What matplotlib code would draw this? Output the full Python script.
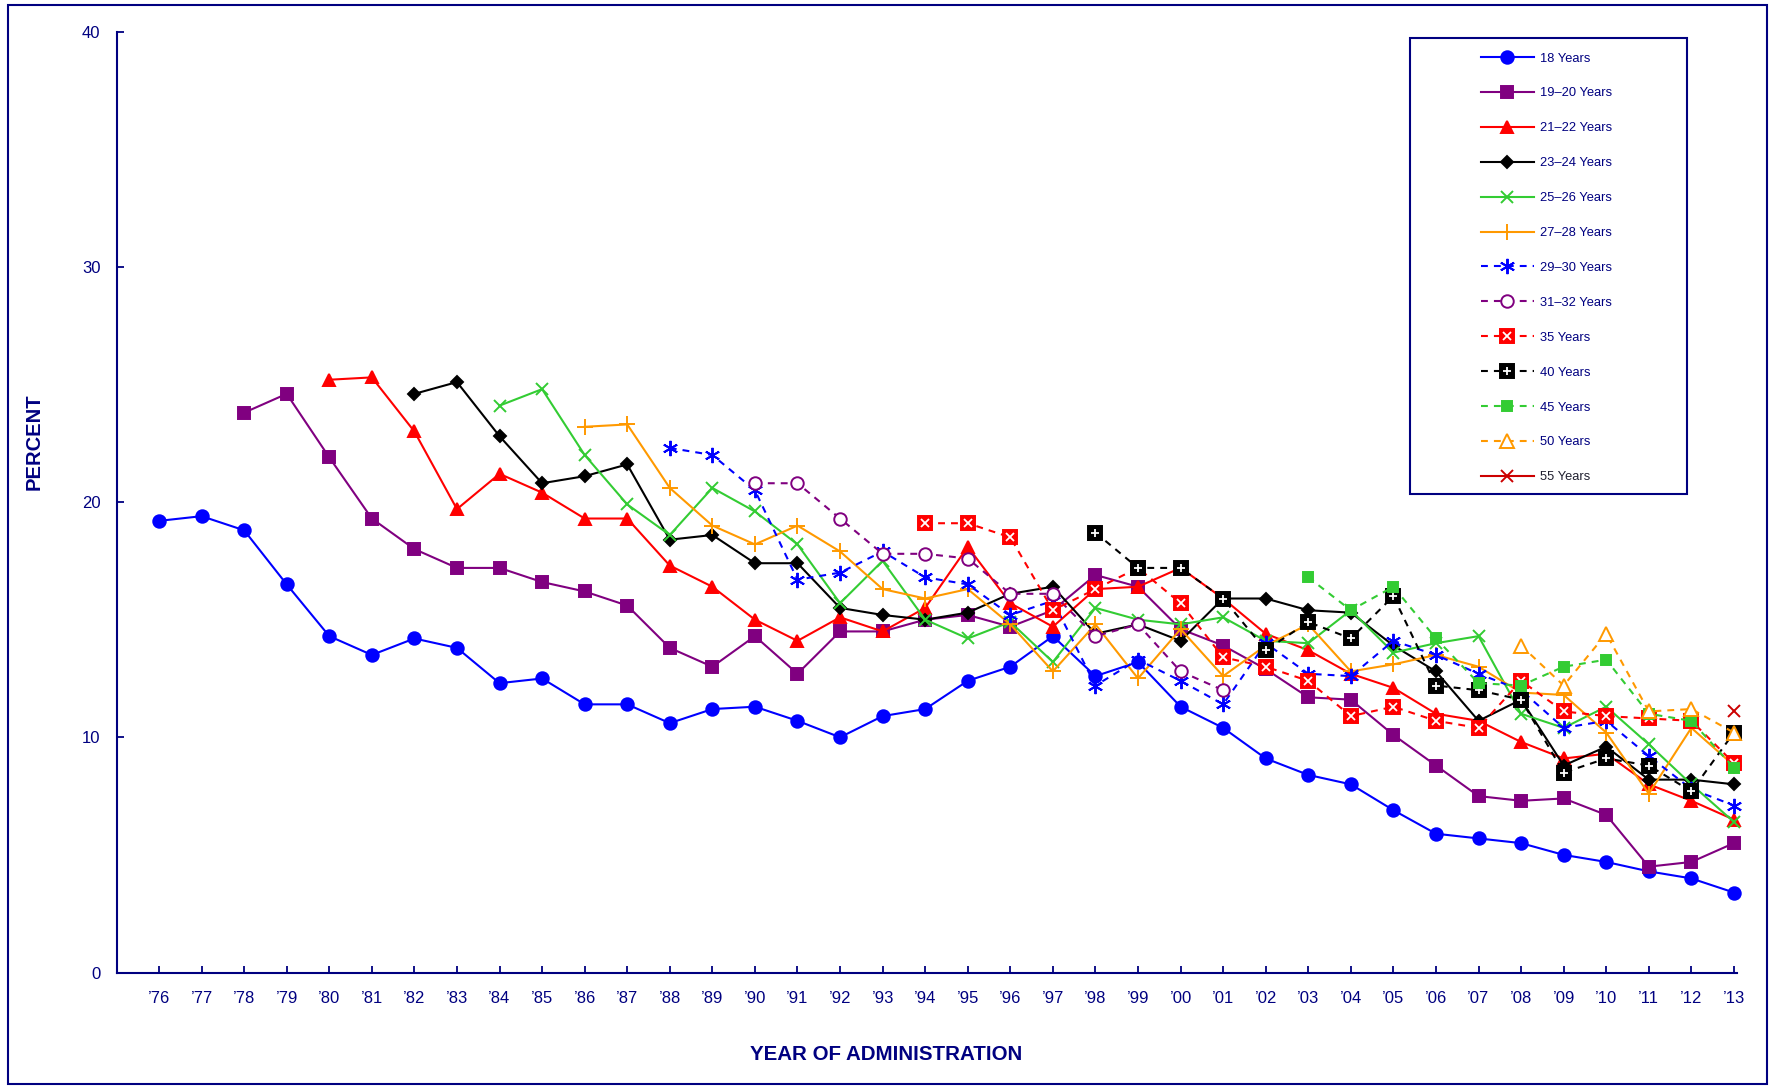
import matplotlib
matplotlib.use("Agg")
from matplotlib import pyplot as plt
from matplotlib.patches import Rectangle

plt.rcParams['font.family'] = ['Liberation Sans', 'DejaVu Sans']

NAVY = '#000080'

years = list(range(1976, 2014))
year_labels = ["\u2019" + str(y)[2:] for y in years]

# percent by age group, each list starts at the first year it was surveyed
age_18 = [19.2, 19.4, 18.8, 16.5, 14.3, 13.5, 14.2, 13.8, 12.3, 12.5,
          11.4, 11.4, 10.6, 11.2, 11.3, 10.7, 10.0, 10.9, 11.2, 12.4,
          13.0, 14.3, 12.6, 13.2, 11.3, 10.4, 9.1, 8.4, 8.0, 6.9,
          5.9, 5.7, 5.5, 5.0, 4.7, 4.3, 4.0, 3.4]
age_19_20 = [23.8, 24.6, 21.9, 19.3, 18.0, 17.2, 17.2, 16.6, 16.2, 15.6,
             13.8, 13.0, 14.3, 12.7, 14.5, 14.5, 15.0, 15.2, 14.7, 15.4,
             16.9, 16.4, 14.6, 13.9, 12.9, 11.7, 11.6, 10.1, 8.8, 7.5,
             7.3, 7.4, 6.7, 4.5, 4.7, 5.5]
age_21_22 = [25.2, 25.3, 23.0, 19.7, 21.2, 20.4, 19.3, 19.3, 17.3, 16.4,
             15.0, 14.1, 15.1, 14.5, 15.5, 18.1, 15.7, 14.7, 16.3, 16.4,
             17.2, 15.9, 14.4, 13.7, 12.7, 12.1, 11.0, 10.7, 9.8, 9.1,
             9.3, 8.0, 7.3, 6.5]
age_23_24 = [24.6, 25.1, 22.8, 20.8, 21.1, 21.6, 18.4, 18.6, 17.4, 17.4,
             15.5, 15.2, 15.0, 15.3, 16.1, 16.4, 14.4, 14.8, 14.1, 15.9,
             15.9, 15.4, 15.3, 13.9, 12.8, 10.7, 11.6, 8.8, 9.6, 8.2,
             8.2, 8.0]
age_25_26 = [24.1, 24.8, 22.0, 19.9, 18.6, 20.6, 19.6, 18.2, 15.7, 17.5,
             15.0, 14.2, 14.9, 13.2, 15.5, 15.0, 14.8, 15.1, 14.1, 14.0,
             15.4, 13.6, 14.0, 14.3, 11.0, 10.4, 11.3, 9.7, 8.0, 6.4]
age_27_28 = [23.2, 23.3, 20.6, 19.0, 18.2, 19.0, 17.9, 16.3, 15.9, 16.3,
             14.8, 12.8, 14.8, 12.5, 14.6, 12.6, 13.9, 14.8, 12.8, 13.1,
             13.5, 13.0, 11.9, 11.8, 10.2, 7.6, 10.4, 8.8]
age_29_30 = [22.3, 22.0, 20.5, 16.7, 17.0, 17.9, 16.8, 16.5, 15.2, 15.8,
             12.2, 13.3, 12.4, 11.4, 14.0, 12.7, 12.6, 14.1, 13.5, 12.7,
             12.0, 10.4, 10.7, 9.2, 7.8, 7.1]
age_31_32 = [20.8, 20.8, 19.3, 17.8, 17.8, 17.6, 16.1, 16.1, 14.3, 14.8,
             12.8, 12.0]
age_35 = [19.1, 19.1, 18.5, 15.4, 16.3, 17.2, 15.7, 13.4, 13.0, 12.4,
          10.9, 11.3, 10.7, 10.4, 12.4, 11.1, 10.9, 10.8, 10.7, 8.9]
age_40 = [18.7, 17.2, 17.2, 15.9, 13.7, 14.9, 14.2, 16.0, 12.2, 12.0,
          11.6, 8.5, 9.1, 8.8, 7.7, 10.2]
age_45 = [16.8, 15.4, 16.4, 14.2, 12.3, 12.2, 13.0, 13.3, 11.0, 10.7, 8.7]
age_50 = [13.9, 12.2, 14.4, 11.1, 11.2, 10.2]
age_55 = [11.1]

labels = ['18 Years', '19\u201320 Years', '21\u201322 Years', '23\u201324 Years',
          '25\u201326 Years', '27\u201328 Years', '29\u201330 Years',
          '31\u201332 Years', '35 Years', '40 Years', '45 Years', '50 Years',
          '55 Years']
start_years = [1976, 1978, 1980, 1982, 1984, 1986, 1988, 1990, 1994, 1998,
               2003, 2008, 2013]
values = [age_18, age_19_20, age_21_22, age_23_24, age_25_26, age_27_28,
          age_29_30, age_31_32, age_35, age_40, age_45, age_50, age_55]

dash = (0, (3.3, 2.9))
# color, linestyle, marker, markersize, filled
styles = [
    ('#0000FF', '-', 'o', 9, True),
    ('#800080', '-', 's', 9, True),
    ('#FF0000', '-', '^', 9, True),
    ('#000000', '-', 'D', 6.5, True),
    ('#33CC33', '-', 'x', 9, True),
    ('#FF9900', '-', '+', 11, True),
    ('#0000FF', dash, (6, 2, 0), 11, True),
    ('#800080', dash, 'o', 9, False),
    ('#FF0000', dash, 's', 10, True),
    ('#000000', dash, 's', 10, True),
    ('#33CC33', dash, 's', 7.5, True),
    ('#FF9900', dash, '^', 10, False),
    ('#CC0000', '-', 'x', 9, True),
]
# white glyph drawn on top of some markers
overlays = {8: 'x', 9: '+'}

fig = plt.figure(figsize=(17.69, 10.86), dpi=100)
ax = fig.add_axes([0.0663, 0.1045, 0.9158, 0.8664])

handles = []
for i, (lab, start, vals) in enumerate(zip(labels, start_years, values)):
    color, ls, marker, ms, filled = styles[i]
    xs = list(range(start, start + len(vals)))
    line, = ax.plot(xs, vals, color=color, linestyle=ls, linewidth=1.5,
                    marker=marker, markersize=ms, markeredgewidth=1.4,
                    markerfacecolor=color if filled else 'white',
                    markeredgecolor=color, clip_on=False, zorder=3 + i * 0.01)
    if i in overlays:
        top, = ax.plot(xs, vals, linestyle='none', marker=overlays[i],
                       markersize=6, markeredgewidth=1.3, color='white',
                       clip_on=False, zorder=3 + i * 0.01 + 0.005)
        handles.append((line, top))
    else:
        handles.append(line)

ax.set_xlim(1975.02, 2013.08)
ax.set_ylim(0, 40)
ax.set_xticks(years)
ax.set_xticklabels(year_labels)
ax.set_yticks([0, 10, 20, 30, 40])

for side in ['top', 'right']:
    ax.spines[side].set_visible(False)
for side in ['left', 'bottom']:
    ax.spines[side].set_color(NAVY)
    ax.spines[side].set_linewidth(1.5)
ax.tick_params(axis='both', direction='in', length=5, width=1.3,
               color=NAVY, labelcolor=NAVY, labelsize=12)
ax.tick_params(axis='x', pad=13)
ax.tick_params(axis='y', pad=12)

fig.text(34 / 1769, 1 - 442 / 1086, 'PERCENT', rotation=90, fontsize=14.5,
         fontweight='bold', color=NAVY, ha='center', va='center')
fig.text(886 / 1769, 1 - 1055 / 1086, 'YEAR OF ADMINISTRATION', fontsize=14.8,
         fontweight='bold', color=NAVY, ha='center', va='center')

leg = fig.legend(handles, labels, loc='upper left',
                 bbox_to_anchor=(1481 / 1769, 1 - 52.5 / 1086), frameon=False,
                 borderpad=0, borderaxespad=0, handlelength=4.1,
                 handletextpad=0.47, labelspacing=1.77, fontsize=9.3,
                 numpoints=1, labelcolor=NAVY)
leg.get_texts()[-1].set_color('#202030')

# legend frame and outer border
fig.add_artist(Rectangle((1410 / 1769, 1 - 494 / 1086), 277 / 1769, 456 / 1086,
                         transform=fig.transFigure, fill=False,
                         edgecolor=NAVY, linewidth=1.5))
fig.add_artist(Rectangle((8 / 1769, 2 / 1086), 1759 / 1769, 1079 / 1086,
                         transform=fig.transFigure, fill=False,
                         edgecolor=NAVY, linewidth=1.5))

fig.savefig('out.png', dpi=100)
